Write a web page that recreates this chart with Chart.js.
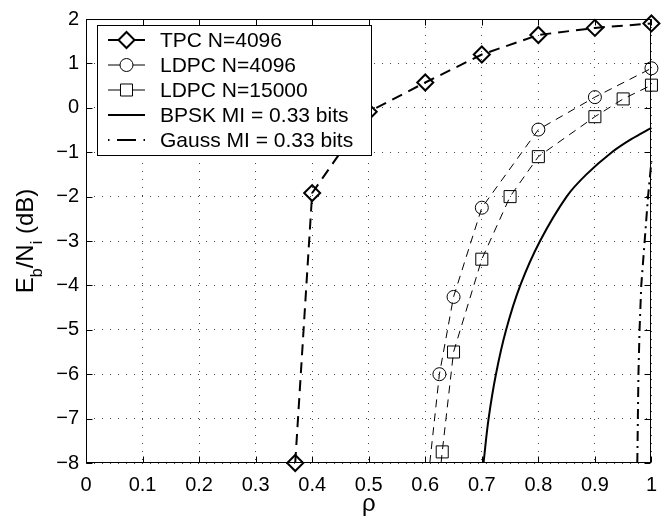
<!DOCTYPE html>
<html>
<head>
<meta charset="utf-8">
<script src="https://cdn.jsdelivr.net/npm/chart.js@4"></script>
<style>
  body { margin: 0; background: #fff; }
</style>
</head>
<body>
<canvas id="chart" width="667" height="518"></canvas>
<script>
// data (rho vs Eb/Ni in dB)
const tpcRho = [0.37, 0.40, 0.50, 0.60, 0.70, 0.80, 0.90, 1.00];
const tpcEb = [-8.0, -1.92, -0.09, 0.57, 1.2, 1.64, 1.8, 1.9];

const ldpc4096Rho = [0.608, 0.625, 0.65, 0.70, 0.80, 0.90, 1.00];
const ldpc4096Eb = [-8.0, -6.0, -4.26, -2.25, -0.49, 0.24, 0.89];

const ldpc15000Rho = [0.628, 0.63, 0.65, 0.70, 0.75, 0.80, 0.90, 0.95, 1.00];
const ldpc15000Eb = [-8.0, -7.75, -5.5, -3.41, -2.0, -1.1, -0.2, 0.2, 0.51];

const bpskRho = [0.703, 0.712, 0.725, 0.743, 0.768, 0.803, 0.850, 0.885, 0.930, 0.965, 1.00];
const bpskEb = [-8, -7, -6, -5, -4, -3, -2, -1.5, -1, -0.7, -0.45];

const gaussRho = [0.975, 0.977, 0.979, 0.982, 0.988, 0.994, 1.00];
const gaussEb = [-8, -6, -5, -4, -3, -2, -1.2];

const xTickLabels = ['0', '0.1', '0.2', '0.3', '0.4', '0.5', '0.6', '0.7', '0.8', '0.9', '1'];
const yTickLabels = ['\u22128', '\u22127', '\u22126', '\u22125', '\u22124', '\u22123', '\u22122', '\u22121', '0', '1', '2'];

const legendNames = ['TPC N=4096', 'LDPC N=4096', 'LDPC N=15000', 'BPSK MI = 0.33 bits', 'Gauss MI = 0.33 bits'];

const FONT = '"Liberation Sans", Arial, Helvetica, sans-serif';

function pts(xs, ys) {
    return xs.map((x, i) => ({ x: x, y: ys[i] }));
}

// first point of the LDPC curves is where the line leaves the axes, no marker there
function markerSizes(xs, r) {
    return xs.map((x, i) => (i === 0 ? 0 : r));
}

// MATLAB style frame: box, inward ticks, axis labels and legend
const matlabFrame = {
    id: 'matlabFrame',
    afterDraw(chart) {
        const { ctx, chartArea: a, scales } = chart;
        const L = Math.round(a.left) + 0.5, R = Math.round(a.right) - 0.5;
        const T = Math.round(a.top) + 0.5, B = Math.round(a.bottom) - 0.5;
        ctx.save();
        ctx.strokeStyle = '#000';
        ctx.lineWidth = 1;
        ctx.setLineDash([]);
        ctx.strokeRect(L, T, R - L, B - T);

        ctx.beginPath();
        scales.x.ticks.forEach(t => {
            const px = Math.round(scales.x.getPixelForValue(t.value)) + 0.5;
            ctx.moveTo(px, B); ctx.lineTo(px, B - 6);
            ctx.moveTo(px, T); ctx.lineTo(px, T + 6);
        });
        scales.y.ticks.forEach(t => {
            const py = Math.round(scales.y.getPixelForValue(t.value)) + 0.5;
            ctx.moveTo(L, py); ctx.lineTo(L + 6, py);
            ctx.moveTo(R, py); ctx.lineTo(R - 6, py);
        });
        ctx.stroke();

        // x label
        ctx.fillStyle = '#000';
        ctx.font = '24px ' + FONT;
        ctx.textAlign = 'center';
        ctx.textBaseline = 'alphabetic';
        ctx.fillText('\u03c1', (a.left + a.right) / 2, 511);

        // y label with subscripts
        const parts = [['E', 24, 0], ['b', 16, 9], ['/N', 24, 0], ['i', 16, 9], [' (dB)', 24, 0]];
        let total = 0;
        parts.forEach(p => { ctx.font = p[1] + 'px ' + FONT; total += ctx.measureText(p[0]).width; });
        ctx.save();
        ctx.translate(33, 241);
        ctx.rotate(-Math.PI / 2);
        ctx.textAlign = 'left';
        let u = -total / 2;
        parts.forEach(p => {
            ctx.font = p[1] + 'px ' + FONT;
            ctx.fillText(p[0], u, p[2]);
            u += ctx.measureText(p[0]).width;
        });
        ctx.restore();

        // legend
        const bx = 97.5, by = 25.5, bw = 274, bh = 130;
        ctx.fillStyle = '#fff';
        ctx.fillRect(bx, by, bw, bh);
        ctx.strokeRect(bx, by, bw, bh);
        const x0 = 108, x1 = 145, xm = 126.5;
        chart.data.datasets.forEach((ds, i) => {
            const yy = 40 + i * 25;
            ctx.strokeStyle = '#000';
            ctx.lineWidth = ds.borderWidth;
            ctx.beginPath();
            if (i === 4) {
                // dash-dot sample
                ctx.moveTo(x0, yy); ctx.lineTo(x0 + 1.5, yy);
                ctx.moveTo(x0 + 9, yy); ctx.lineTo(x1 - 9, yy);
                ctx.moveTo(x1 - 1.5, yy); ctx.lineTo(x1, yy);
            } else {
                ctx.moveTo(x0, yy); ctx.lineTo(x1, yy);
            }
            ctx.stroke();
            if (ds.pointStyle && ds.legendRadius) {
                ctx.lineWidth = ds.pointBorderWidth;
                ctx.fillStyle = '#fff';
                Chart.helpers.drawPoint(ctx, { pointStyle: ds.pointStyle, radius: ds.legendRadius, rotation: 0, borderWidth: ds.pointBorderWidth }, xm, yy);
            }
            ctx.fillStyle = '#000';
            ctx.font = '21px ' + FONT;
            ctx.textAlign = 'left';
            ctx.textBaseline = 'middle';
            ctx.fillText(legendNames[i], 160, yy + 1);
        });
        ctx.restore();
    }
};

const clear = 'rgba(0,0,0,0)';

new Chart(document.getElementById('chart'), {
    type: 'scatter',
    data: {
        datasets: [
            {
                label: legendNames[0],
                data: pts(tpcRho, tpcEb),
                showLine: true,
                borderColor: '#000',
                borderWidth: 2,
                borderDash: [11, 7],
                pointStyle: 'rectRot',
                pointRadius: 8,
                legendRadius: 8,
                pointBorderWidth: 2,
                pointBorderColor: '#000',
                pointBackgroundColor: clear,
                clip: false
            },
            {
                label: legendNames[1],
                data: pts(ldpc4096Rho, ldpc4096Eb),
                showLine: true,
                borderColor: '#000',
                borderWidth: 1,
                borderDash: [8, 6],
                pointStyle: 'circle',
                pointRadius: markerSizes(ldpc4096Rho, 6.5),
                legendRadius: 6.5,
                pointBorderWidth: 1,
                pointBorderColor: '#000',
                pointBackgroundColor: clear,
                clip: false
            },
            {
                label: legendNames[2],
                data: pts(ldpc15000Rho, ldpc15000Eb),
                showLine: true,
                borderColor: '#000',
                borderWidth: 1,
                borderDash: [8, 6],
                pointStyle: 'rect',
                pointRadius: markerSizes(ldpc15000Rho, 8.5),
                legendRadius: 8.5,
                pointBorderWidth: 1,
                pointBorderColor: '#000',
                pointBackgroundColor: clear,
                clip: false
            },
            {
                label: legendNames[3],
                data: pts(bpskRho, bpskEb),
                showLine: true,
                borderColor: '#000',
                borderWidth: 2,
                pointRadius: 0,
                tension: 0.35,
                clip: false
            },
            {
                label: legendNames[4],
                data: pts(gaussRho, gaussEb),
                showLine: true,
                borderColor: '#000',
                borderWidth: 2,
                borderDash: [10, 5, 2, 5],
                pointRadius: 0,
                clip: false
            }
        ]
    },
    options: {
        responsive: false,
        animation: false,
        devicePixelRatio: 1,
        events: [],
        layout: { padding: { top: 14, right: 11, left: 0, bottom: 0 } },
        plugins: {
            legend: { display: false },
            tooltip: { enabled: false }
        },
        scales: {
            x: {
                type: 'linear',
                min: 0,
                max: 1,
                afterFit: (scale) => { scale.height = 55; },
                ticks: {
                    stepSize: 0.1,
                    padding: 10,
                    color: '#000',
                    font: { family: FONT, size: 20 },
                    maxRotation: 0,
                    autoSkip: false,
                    callback: (v, i) => xTickLabels[i]
                },
                grid: { color: '#444', lineWidth: 1, drawTicks: false },
                border: { display: false, dash: [1, 7] }
            },
            y: {
                type: 'linear',
                min: -8,
                max: 2,
                afterFit: (scale) => { scale.width = 86; },
                ticks: {
                    stepSize: 1,
                    padding: 7,
                    color: '#000',
                    font: { family: FONT, size: 20 },
                    autoSkip: false,
                    callback: (v, i) => yTickLabels[i]
                },
                grid: { color: '#444', lineWidth: 1, drawTicks: false },
                border: { display: false, dash: [1, 7] }
            }
        }
    },
    plugins: [matlabFrame]
});
</script>
</body>
</html>
